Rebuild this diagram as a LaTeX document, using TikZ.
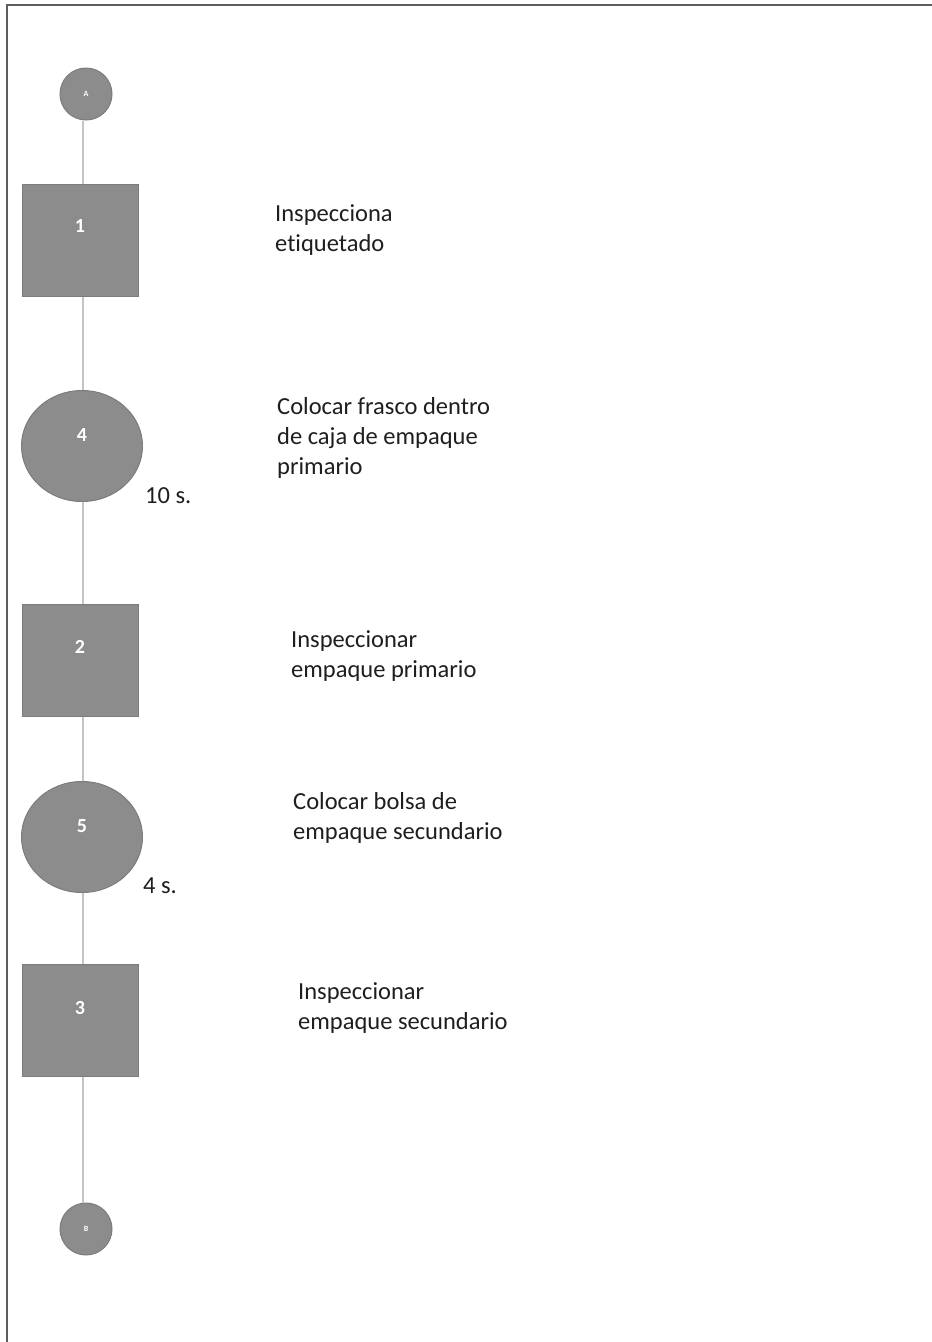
\documentclass[tikz,border=0pt]{standalone}
\usepackage{fontspec}
\setmainfont{Carlito}[Ligatures=NoCommon]
\usetikzlibrary{shapes.geometric}
\definecolor{shapefill}{HTML}{8C8C8C}
\definecolor{shapeedge}{HTML}{7C7C7C}
\definecolor{linkgray}{HTML}{C4C4C4}
\definecolor{framegray}{HTML}{5E5E5E}
\definecolor{txt}{HTML}{1E1E1E}
\tikzset{
  opbox/.style={rectangle, draw=shapeedge, fill=shapefill, line width=1pt,
    minimum width=116pt, minimum height=112pt, inner sep=0pt},
  opcirc/.style={ellipse, draw=shapeedge, fill=shapefill, line width=1pt,
    minimum width=121pt, minimum height=111pt, inner sep=0pt},
  endcirc/.style={circle, draw=shapeedge, fill=shapefill, line width=1pt,
    minimum size=52pt, inner sep=0pt},
  num/.style={text=white, font=\fontsize{20}{20}\selectfont\bfseries, inner sep=0pt},
  tinynum/.style={text=white, font=\fontsize{8}{8}\selectfont\bfseries, inner sep=0pt},
  desc/.style={text=txt, font=\fontsize{24.5}{30}\selectfont, align=left,
    anchor=north west, inner sep=0pt},
  timelbl/.style={text=txt, font=\fontsize{24.5}{30}\selectfont, anchor=west, inner sep=0pt},
  link/.style={draw=linkgray, line width=2pt},
  frame/.style={draw=framegray, line width=2.6pt}
}
\begin{document}
\begin{tikzpicture}[x=1pt, y=-1pt]
\useasboundingbox (0,0) rectangle (932,1342);
% page frame (top and left edges)
\draw[frame] (932,5) -- (7,5) -- (7,1342);

% vertical spine of the chart
\coordinate (spine) at (83,0);

% symbols
\node[endcirc] (A)  at (86,94)   {};
\node[opbox]   (p1) at (80,240)  {};
\node[opcirc]  (p4) at (82,446)  {};
\node[opbox]   (p2) at (80,660)  {};
\node[opcirc]  (p5) at (82,837)  {};
\node[opbox]   (p3) at (80,1020) {};
\node[endcirc] (B)  at (86,1229) {};

% connectors
\draw[link] (A.south -| spine)  -- (p1.north -| spine);
\draw[link] (p1.south -| spine) -- (p4.north -| spine);
\draw[link] (p4.south -| spine) -- (p2.north -| spine);
\draw[link] (p2.south -| spine) -- (p5.north -| spine);
\draw[link] (p5.south -| spine) -- (p3.north -| spine);
\draw[link] (p3.south -| spine) -- (B.north -| spine);

% numbers inside the symbols
\node[tinynum] (tA) at (A) {A};
\node[num, yshift=14pt] (t1) at (p1) {1};
\node[num, yshift=11pt] (t4) at (p4) {4};
\node[num, yshift=13pt] (t2) at (p2) {2};
\node[num, yshift=11pt] (t5) at (p5) {5};
\node[num, yshift=12pt] (t3) at (p3) {3};
\node[tinynum] (tB) at (B) {B};

% descriptions
\node[desc] (d1) at (275,204) {Inspecciona\\etiquetado};
\node[desc] (d4) at (277,397) {Colocar frasco dentro\\de caja de empaque\\primario};
\node[desc] (d2) at (291,630) {Inspeccionar\\empaque primario};
\node[desc] (d5) at (293,792) {Colocar bolsa de\\empaque secundario};
\node[desc] (d3) at (298,982) {Inspeccionar\\empaque secundario};

% times
\node[timelbl] (s4) at (145,496) {10 s.};
\node[timelbl] (s5) at (143,886) {4 s.};
\end{tikzpicture}
\end{document}
